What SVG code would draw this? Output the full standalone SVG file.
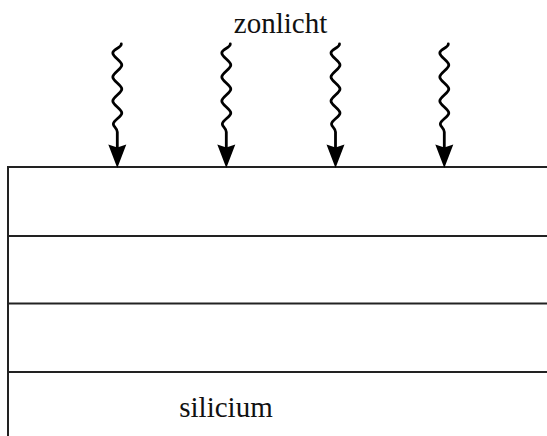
<svg xmlns="http://www.w3.org/2000/svg" width="547" height="436" viewBox="0 0 547 436">
  <style>
    .layer { stroke: #222; stroke-width: 2; fill: none; }
    .wave { stroke: #000; stroke-width: 2.8; fill: none; stroke-linecap: round; }
    .head { fill: #000; stroke: none; }
    .label { font-family: "Liberation Serif", "Times New Roman", serif; font-size: 29px; fill: #111; text-anchor: middle; }
  </style>
  <defs>
    <g id="ray">
      <path class="wave" d="M4,44 C4,48 -4.5,49 -4.5,53 C-4.5,57 4.5,61 4.5,65 C4.5,69 -4.5,73 -4.5,77 C-4.5,81 4.5,85 4.5,89 C4.5,93 -4.5,97 -4.5,101 C-4.5,105 4.5,109 4.5,113 C4.5,117 -4,120 -4,124 C-4,127 0,128 0,132 L0,150"/>
      <polygon class="head" points="-9,144.5 0,147.5 9,144.5 0,168"/>
    </g>
  </defs>
  <rect width="547" height="436" fill="#fff"/>
  <g id="layers">
    <line class="layer" x1="8" y1="167" x2="547" y2="167"/>
    <line class="layer" x1="8" y1="236" x2="547" y2="236"/>
    <line class="layer" x1="8" y1="303.5" x2="547" y2="303.5"/>
    <line class="layer" x1="8" y1="372" x2="547" y2="372"/>
    <line class="layer" x1="8" y1="166" x2="8" y2="436"/>
  </g>
  <g id="connectors">
    <use href="#ray" x="117.3"/>
    <use href="#ray" x="226.3"/>
    <use href="#ray" x="335.5"/>
    <use href="#ray" x="444.3"/>
  </g>
  <g id="zonlicht"><text class="label" x="280.5" y="33">zonlicht</text></g>
  <g id="silicium"><text class="label" x="226" y="416.5">silicium</text></g>
</svg>
